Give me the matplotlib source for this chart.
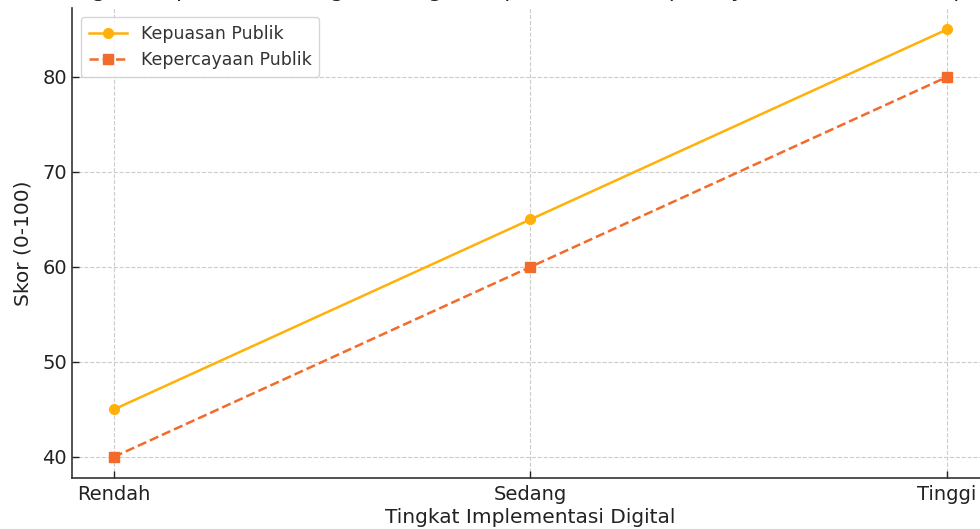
import matplotlib
matplotlib.use("Agg")
import matplotlib.pyplot as plt

categories = ["Rendah", "Sedang", "Tinggi"]
kepuasan = [45, 65, 85]
kepercayaan = [40, 60, 80]
yticks = [40, 50, 60, 70, 80]
title = "Hubungan antara Tingkat Implementasi Digital dengan Kepuasan dan Kepercayaan Publik terhadap Layanan Pemerintah"

plt.rcParams['font.family'] = ['DejaVu Sans']
fig = plt.figure(figsize=(9.8, 5.29), dpi=100)
ax = fig.add_axes([0.0735, 0.0957, 0.9353, 0.889])

x = list(range(len(categories)))
ax.plot(x, kepuasan, color="#FFB10A", marker="o", markersize=7, linewidth=1.8,
        linestyle="-", label="Kepuasan Publik")
ax.plot(x, kepercayaan, color="#F26B2A", marker="s", markersize=7, linewidth=1.8,
        linestyle="--", label="Kepercayaan Publik")

ax.set_xticks(x)
ax.set_xticklabels(categories)
ax.set_yticks(yticks)
ax.tick_params(direction="in", length=5, width=1, labelsize=14, colors="#222222",
               labelcolor="#222222")
ax.tick_params(axis="x", pad=5)
ax.grid(True, linestyle="--", color="#cccccc", linewidth=0.8)
for s in ["top", "right"]:
    ax.spines[s].set_visible(False)
for s in ["left", "bottom"]:
    ax.spines[s].set_color("#333333")
    ax.spines[s].set_linewidth(1.2)

ax.set_xlabel("Tingkat Implementasi Digital", fontsize=14.5, color="#222222", labelpad=3)
ax.set_ylabel("Skor (0-100)", fontsize=14.5, color="#222222", labelpad=7)
ax.set_title(title, fontsize=16, color="#222222", pad=8.2)

leg = ax.legend(loc="upper left", fontsize=12.5, frameon=True, fancybox=True,
                edgecolor="#cccccc", borderpad=0.45, handlelength=2.2)
for t in leg.get_texts():
    t.set_color("#333333")

fig.savefig("out.png", dpi=100)
